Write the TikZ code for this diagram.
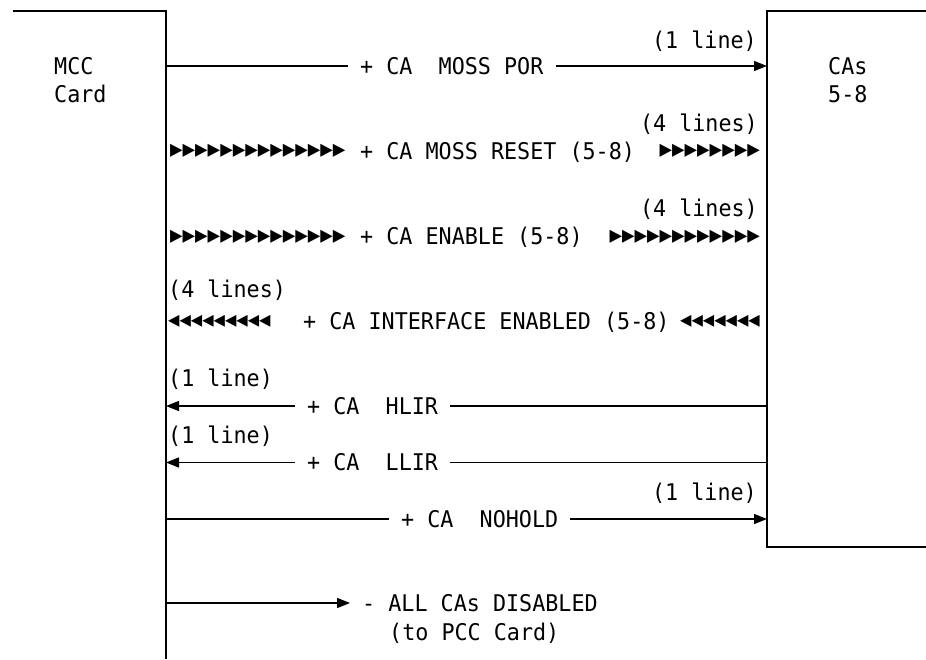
\documentclass[tikz,border=0pt]{standalone}
\usepackage{fontspec}
\newfontfamily\ibmfont[FakeStretch=0.945]{DejaVu Sans Mono}
\usetikzlibrary{arrows.meta, positioning}

\begin{document}
\begin{tikzpicture}[x=1pt, y=-1pt,
  txt/.style={font={\ibmfont\fontsize{23}{28}\selectfont}, inner sep=0pt, text height=16pt, text depth=0pt},
  sig/.style={txt, inner xsep=12pt},
  bus/.style={font={\ibmfont\fontsize{#1}{28}\selectfont}, inner sep=0pt},
  card/.style={line width=1.8pt},
  wire/.style={line width=1.2pt},
  tip/.style={-{Triangle[length=13pt, width=10pt]}}
]
  \useasboundingbox (0,0) rectangle (926,659);
  % the two cards
  \draw[card] (13,10.7) -- (166,10.7) -- (166,659);
  \draw[card] (926,10.7) -- (767,10.7) -- (767,547) -- (926,547);
  \node[txt, anchor=west] (mcc) at (54,66) {MCC};
  \node[txt, anchor=west] (mcc2) at (54,94) {Card};
  \node[txt, anchor=west] (cas) at (828,66) {CAs};
  \node[txt, anchor=west] (cas2) at (828,94) {5-8};

  % MOSS POR
  \coordinate (por-l) at (166,66);
  \coordinate (por-r) at (767,66);
  \node[sig, anchor=west] (por) at (348,66) {+ CA\ \ MOSS POR};
  \draw[wire] (por-l) -- (por.west);
  \draw[wire, tip] (por.east) -- (por-r);
  \node[txt, anchor=east] (por-n) at (757,40) {(1 line)};

  % MOSS RESET
  \node[bus=22, anchor=west] (rst-a) at (170,151) {▶▶▶▶▶▶▶▶▶▶▶▶▶▶};
  \node[txt, anchor=west] (rst) at (360,151) {+ CA MOSS RESET (5-8)};
  \node[bus=22, anchor=east] (rst-b) at (760,151) {▶▶▶▶▶▶▶▶};
  \node[txt, anchor=east] (rst-n) at (758,123) {(4 lines)};

  % ENABLE
  \node[bus=22, anchor=west] (enb-a) at (170,236.5) {▶▶▶▶▶▶▶▶▶▶▶▶▶▶};
  \node[txt, anchor=west] (enb) at (360,236.5) {+ CA ENABLE (5-8)};
  \node[bus=22, anchor=east] (enb-b) at (760,236.5) {▶▶▶▶▶▶▶▶▶▶▶▶};
  \node[txt, anchor=east] (enb-n) at (758,208) {(4 lines)};

  % INTERFACE ENABLED
  \node[txt, anchor=west] (ifc-n) at (168,289) {(4 lines)};
  \node[bus=20, anchor=west] (ifc-a) at (168,321.7) {◀◀◀◀◀◀◀◀◀};
  \node[txt, anchor=west] (ifc) at (303,321.7) {+ CA INTERFACE ENABLED (5-8)};
  \node[bus=20, anchor=east] (ifc-b) at (760,321.7) {◀◀◀◀◀◀◀};

  % HLIR
  \coordinate (hlir-l) at (166,406);
  \coordinate (hlir-r) at (767,406);
  \node[sig, anchor=west] (hlir) at (295,406) {+ CA\ \ HLIR};
  \draw[wire] (hlir-r) -- (hlir.east);
  \draw[wire, tip] (hlir.west) -- (hlir-l);
  \node[txt, anchor=west] (hlir-n) at (168,378) {(1 line)};

  % LLIR
  \coordinate (llir-l) at (166,462.5);
  \coordinate (llir-r) at (767,462.5);
  \node[sig, anchor=west] (llir) at (295,462.5) {+ CA\ \ LLIR};
  \draw[wire] (llir-r) -- (llir.east);
  \draw[wire, tip] (llir.west) -- (llir-l);
  \node[txt, anchor=west] (llir-n) at (168,435) {(1 line)};

  % NOHOLD
  \coordinate (nhd-l) at (166,519);
  \coordinate (nhd-r) at (767,519);
  \node[sig, anchor=west] (nhd) at (389,519) {+ CA\ \ NOHOLD};
  \draw[wire] (nhd-l) -- (nhd.west);
  \draw[wire, tip] (nhd.east) -- (nhd-r);
  \node[txt, anchor=east] (nhd-n) at (757,492) {(1 line)};

  % ALL CAs DISABLED
  \coordinate (dis-l) at (166,603);
  \node[sig, anchor=west] (dis) at (350,603) {- ALL CAs DISABLED};
  \node[txt, anchor=west] (dis2) at (389,632) {(to PCC Card)};
  \draw[wire, tip] (dis-l) -- (dis.west);
\end{tikzpicture}
\end{document}
